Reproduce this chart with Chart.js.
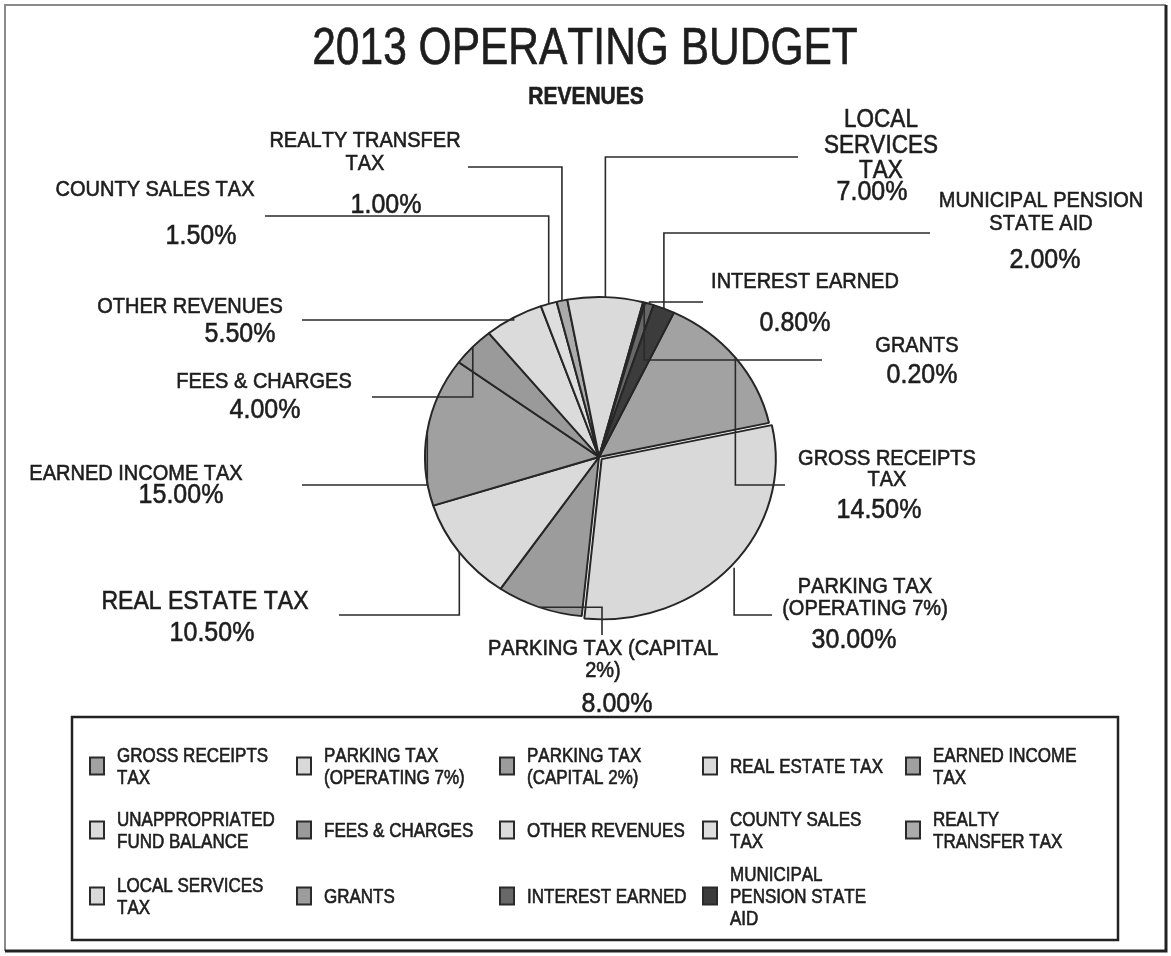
<!DOCTYPE html>
<html>
<head>
<meta charset="utf-8">
<title>2013 Operating Budget - Revenues</title>
<script src="https://cdn.jsdelivr.net/npm/chart.js@4.4.1/dist/chart.umd.min.js"></script>
<style>
  html, body { margin: 0; padding: 0; background: #fff; }
  #budgetChart { display: block; }
</style>
</head>
<body>
<canvas id="budgetChart" width="1171" height="956"></canvas>
<script>
// Revenue categories, in legend / slice order
const categories = [
    'GROSS RECEIPTS TAX',
    'PARKING TAX (OPERATING 7%)',
    'PARKING TAX (CAPITAL 2%)',
    'REAL ESTATE TAX',
    'EARNED INCOME TAX',
    'UNAPPROPRIATED FUND BALANCE',
    'FEES & CHARGES',
    'OTHER REVENUES',
    'COUNTY SALES TAX',
    'REALTY TRANSFER TAX',
    'LOCAL SERVICES TAX',
    'GRANTS',
    'INTEREST EARNED',
    'MUNICIPAL PENSION STATE AID'
];

// Share of total revenues (%)
const shares = [14.5, 30, 8, 10.5, 15, 0, 4, 5.5, 1.5, 1, 7, 0.2, 0.8, 2];

const sliceColors = [
    '#a2a2a2', '#d9d9d9', '#9c9c9c', '#dadada', '#a0a0a0', '#dcdcdc', '#9a9a9a',
    '#dbdbdb', '#dedede', '#ababab', '#dadada', '#9c9c9c', '#686868', '#3c3c3c'
];

// exploded slice (Chart.js applies offset / 4 twice)
const sliceOffsets = [0, 14, 0, 0, 0, 0, 0, 0, 0, 0, 0, 0, 0, 0];

const FONT = "'Liberation Sans', Arial, sans-serif";
const INK = '#1e1e1e';

// pie geometry: circle radius and vertical squash
const PIE_CX = 599;
const PIE_CY = 457;
const PIE_R = 174;
const PIE_SQUASH = 160 / 174;

// data label placement: name block, percentage, and leader elbow end
const sliceLabels = [
    { x: 887, y: 465, lh: 21, wrap: 185, px: 879, py: 518, lead: 'v', ex: 785, ey: 485 },
    { x: 865, y: 593, lh: 22, wrap: 170, px: 854, py: 648, lead: 'v', ex: 772, ey: 615 },
    { x: 603, y: 655, lh: 22, wrap: 234, px: 617, py: 712, lead: 'hv', ex: 602, ey: 635 },
    { x: 205, y: 609, lh: 22, wrap: 300, size: 23, px: 212, py: 641, lead: 'v', ex: 339, ey: 615 },
    { x: 136, y: 480, lh: 22, wrap: 260, px: 181, py: 503, lead: 'v', ex: 302, ey: 485 },
    null,
    { x: 264, y: 388, lh: 22, wrap: 200, px: 265, py: 418, lead: 'v', ex: 372, ey: 397 },
    { x: 190, y: 313, lh: 22, wrap: 200, px: 240, py: 342, lead: 'v', ex: 302, ey: 320 },
    { x: 155, y: 196, lh: 22, wrap: 250, px: 201, py: 244, lead: 'v', ex: 265, ey: 216 },
    { x: 365, y: 147, lh: 23, wrap: 200, px: 386, py: 213, lead: 'v', ex: 468, ey: 167 },
    { x: 881, y: 127, lh: 25.5, wrap: 120, size: 22.5, px: 872, py: 200, lead: 'v', ex: 798, ey: 157 },
    { x: 917, y: 352, lh: 22, wrap: 200, px: 922, py: 383, lead: 'v', ex: 822, ey: 360 },
    { x: 805, y: 288, lh: 22, wrap: 200, px: 795, py: 331, lead: 'v', ex: 703, ey: 302 },
    { x: 1041, y: 207, lh: 23, wrap: 208, px: 1045, py: 268, lead: 'v', ex: 930, ey: 233 }
];

// legend grid
const legendCols = [90, 297, 500, 703, 906];
const legendRows = [766, 830, 896];

function wrapWords(ctx, text, maxWidth) {
    const words = text.split(' ');
    const lines = [];
    let line = '';
    words.forEach(w => {
        const test = line ? line + ' ' + w : w;
        if (line && ctx.measureText(test).width > maxWidth) {
            lines.push(line);
            line = w;
        } else {
            line = test;
        }
    });
    if (line) lines.push(line);
    return lines;
}

// text drawn slightly taller than wide, with a faint stroke for weight
function tallText(ctx, text, x, y, stretch) {
    ctx.save();
    ctx.translate(x, y);
    ctx.scale(1, stretch);
    ctx.strokeStyle = ctx.fillStyle;
    ctx.lineWidth = 0.55;
    ctx.fillText(text, 0, 0);
    ctx.strokeText(text, 0, 0);
    ctx.restore();
}

function line(ctx, pts) {
    ctx.beginPath();
    ctx.moveTo(pts[0][0], pts[0][1]);
    for (let i = 1; i < pts.length; i++) ctx.lineTo(pts[i][0], pts[i][1]);
    ctx.stroke();
}

const whiteBackground = {
    id: 'whiteBackground',
    beforeDraw(chart) {
        const ctx = chart.ctx;
        ctx.save();
        ctx.fillStyle = '#fff';
        ctx.fillRect(0, 0, chart.width, chart.height);
        ctx.restore();
    }
};

// flatten the pie into an ellipse
const squashPie = {
    id: 'squashPie',
    beforeDatasetsDraw(chart) {
        const ctx = chart.ctx;
        ctx.save();
        ctx.translate(PIE_CX, PIE_CY);
        ctx.scale(1, PIE_SQUASH);
        ctx.translate(-PIE_CX, -PIE_CY);
    },
    afterDatasetsDraw(chart) {
        chart.ctx.restore();
    }
};

const sheetDecor = {
    id: 'sheetDecor',
    afterDraw(chart) {
        const ctx = chart.ctx;
        ctx.save();
        ctx.fontKerning = 'none';

        // page frame
        ctx.strokeStyle = '#8a8a8a';
        ctx.lineWidth = 2;
        line(ctx, [[5, 951], [5, 5], [1166, 5]]);
        ctx.strokeStyle = '#222';
        ctx.lineWidth = 3;
        line(ctx, [[1166, 5], [1166, 951], [5, 951]]);

        // titles
        ctx.fillStyle = INK;
        ctx.textAlign = 'center';
        ctx.textBaseline = 'alphabetic';
        ctx.font = '42.5px ' + FONT;
        tallText(ctx, '2013 OPERATING BUDGET', 585, 64, 1.22);
        ctx.font = 'bold 21px ' + FONT;
        tallText(ctx, 'REVENUES', 586, 104, 1.1);

        // leader lines from slice edges
        const meta = chart.getDatasetMeta(0);
        ctx.strokeStyle = '#2a2a2a';
        ctx.lineWidth = 1.6;
        sliceLabels.forEach((spot, i) => {
            if (!spot) return;
            const arc = meta.data[i];
            const p = arc.getProps(['x', 'y', 'startAngle', 'endAngle', 'outerRadius'], true);
            const mid = (p.startAngle + p.endAngle) / 2;
            const dist = p.outerRadius + sliceOffsets[i] / 2;
            const ax = p.x + Math.cos(mid) * dist;
            const ay = p.y + Math.sin(mid) * dist * PIE_SQUASH;
            if (spot.lead === 'v') {
                line(ctx, [[ax, ay], [ax, spot.ey], [spot.ex, spot.ey]]);
            } else {
                line(ctx, [[ax, ay], [spot.ex, ay], [spot.ex, spot.ey]]);
            }
        });

        // slice names and percentages
        sliceLabels.forEach((spot, i) => {
            if (!spot) return;
            ctx.font = (spot.size || 20) + 'px ' + FONT;
            const lines = wrapWords(ctx, categories[i], spot.wrap);
            lines.forEach((t, k) => tallText(ctx, t, spot.x, spot.y + k * spot.lh, 1.12));
            ctx.font = '25px ' + FONT;
            tallText(ctx, shares[i].toFixed(2) + '%', spot.px, spot.py, 1.1);
        });

        // legend box
        ctx.strokeStyle = '#222';
        ctx.lineWidth = 2.5;
        ctx.strokeRect(72, 717, 1046, 223);

        ctx.font = '17px ' + FONT;
        ctx.textAlign = 'left';
        categories.forEach((name, i) => {
            const cx = legendCols[i % 5];
            const cy = legendRows[Math.floor(i / 5)];
            ctx.fillStyle = sliceColors[i];
            ctx.fillRect(cx, cy - 8.5, 14, 17);
            ctx.strokeStyle = '#2a2a2a';
            ctx.lineWidth = 2;
            ctx.strokeRect(cx, cy - 8.5, 14, 17);

            ctx.fillStyle = INK;
            const lines = wrapWords(ctx, name, 161);
            const lh = 22;
            const first = cy - (lines.length - 1) * lh / 2 + 7;
            lines.forEach((t, k) => tallText(ctx, t, cx + 27, first + k * lh, 1.15));
        });

        ctx.restore();
    }
};

new Chart(document.getElementById('budgetChart'), {
    type: 'pie',
    data: {
        labels: categories,
        datasets: [{
            data: shares,
            backgroundColor: sliceColors,
            borderColor: '#262626',
            borderWidth: 2,
            offset: sliceOffsets,
            clip: false
        }]
    },
    options: {
        responsive: false,
        animation: false,
        devicePixelRatio: 1,
        rotation: 25.5,
        radius: PIE_R,
        layout: {
            padding: {
                left: PIE_CX - 180,
                right: 1171 - PIE_CX - 180,
                top: PIE_CY - 180,
                bottom: 956 - PIE_CY - 180
            }
        },
        plugins: {
            legend: { display: false },
            title: { display: false },
            tooltip: { enabled: false }
        }
    },
    plugins: [whiteBackground, squashPie, sheetDecor]
});
</script>
</body>
</html>
